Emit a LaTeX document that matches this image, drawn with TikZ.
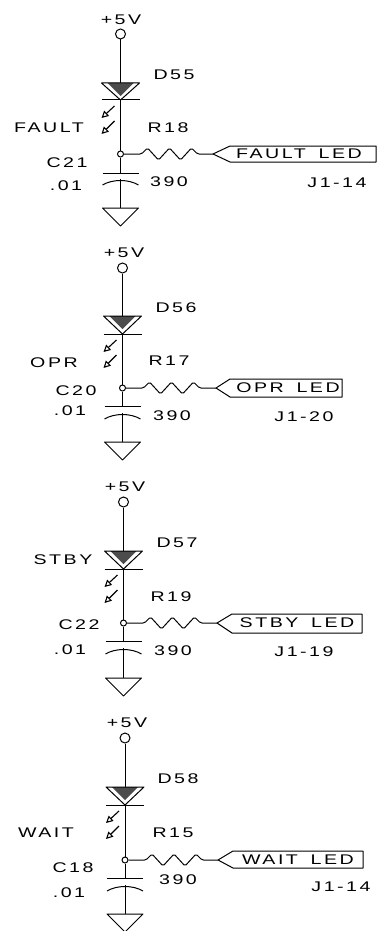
\documentclass[tikz,border=0pt]{standalone}
\usepackage{fontspec}
\usetikzlibrary{arrows.meta, positioning}
\newfontfamily\plotfont[FakeStretch=1.4,LetterSpace=18,WordSpace=1.6]{Liberation Sans}

\begin{document}
\begin{tikzpicture}[
    x=1pt, y=-1pt,
    wire/.style={line width=1pt, line join=round},
    pin/.style={circle, draw, line width=1pt, minimum size=10pt, inner sep=0pt},
    dotnode/.style={circle, draw, line width=1pt, minimum size=6pt, inner sep=0pt},
    lbl/.style={font=\plotfont\fontsize{14}{14}\selectfont, inner sep=0pt, anchor=center, xshift=1pt},
    ledarrow/.style={line width=1.1pt, -{Triangle[open, length=7pt, width=7pt]}}
    ]
    \useasboundingbox (0,0) rectangle (377,931);

    % id / x / pin / diode top / bar / junction / plate / arc / ground top / tip / shoulder / right / tag top / tag bottom
    \foreach \id/\xx/\ypin/\ytop/\ybar/\yj/\ycap/\yarc/\ygnd/\xtip/\xsh/\xright/\ytt/\ytb in {
        55/120.5/34/83/100/154/173/179/208/213/230/376/146/162,
        56/122.5/268/316/334/388/406/413/442/216/230/342/379/397,
        57/123.5/502/551/569/623/641/648/678/217/232/362/614/633,
        58/125/738/787/805/860/878/885/914/218/233/363/851/868}
    {
        \node[pin] (vcc\id) at (\xx,\ypin) {};
        \node[dotnode] (dot\id) at (\xx,\yj) {};
        \coordinate (atop\id) at (\xx,\ytop);
        \coordinate (cath\id) at (\xx,\ybar);
        \coordinate (plate\id) at (\xx,\ycap);
        \coordinate (arc\id) at (\xx,\yarc);
        \coordinate (gnd\id) at (\xx,\ygnd);
        \coordinate (ra\id) at (\xx+21,\yj);
        \coordinate (tip\id) at (\xtip,\yj);

        % diode
        \fill[black!70] (\xx-13,\ytop) -- (\xx+13,\ytop) -- (\xx,\ytop+13) -- cycle;
        \draw[wire] (\xx-19,\ytop) -- (\xx+19,\ytop) -- (cath\id) -- cycle;
        \draw[wire] (\xx-19,\ybar) -- (\xx+19,\ybar);
        \draw[ledarrow] (\xx-6,\ybar+6) -- (\xx-19,\ybar+18);
        \draw[ledarrow] (\xx-6,\ybar+21) -- (\xx-19,\ybar+34);

        % capacitor and ground
        \draw[wire] (\xx-18,\ycap) -- (\xx+18,\ycap);
        \draw[wire] (\xx-18,\yarc+6) .. controls (\xx-8,\yarc) and (\xx+8,\yarc) .. (\xx+18,\yarc+6);
        \draw[wire] (gnd\id) ++(-18,0) -- ++(36,0) -- ++(-18,18) -- cycle;

        % connectors
        \draw[wire] (vcc\id) -- (atop\id);
        \draw[wire] (cath\id) -- (dot\id);
        \draw[wire] (dot\id) -- (plate\id);
        \draw[wire] (arc\id) -- (gnd\id);
        \draw[wire, rounded corners=1.5pt] (dot\id) -- (ra\id) -- ++(6,-6) -- ++(11,12) -- ++(11,-12)
            -- ++(11,12) -- ++(11,-12) -- ++(6,6) -- (tip\id);

        % connector tag
        \draw[wire] (tip\id) -- (\xsh,\ytt) -- (\xright,\ytt) -- (\xright,\ytb) -- (\xsh,\ytb) -- cycle;
    }

    \node[lbl] (v55) at (120,20) {+5V};
    \node[lbl] (d55) at (173,75) {D55};
    \node[lbl] (fault) at (48,128) {FAULT};
    \node[lbl] (r18) at (167,128) {R18};
    \node[lbl] (c21) at (66,163) {C21};
    \node[lbl] (cv21) at (65,186) {.01};
    \node[lbl] (rv18) at (168,182) {390};
    \node[lbl] (led55) at (298,154) {FAULT LED};
    \node[lbl] (j55) at (336,183) {J1-14};

    \node[lbl] (v56) at (123,253) {+5V};
    \node[lbl] (d56) at (175,308) {D56};
    \node[lbl] (opr) at (53,363) {OPR};
    \node[lbl] (r17) at (168,361) {R17};
    \node[lbl] (c20) at (75,391) {C20};
    \node[lbl] (cv20) at (69,411) {.01};
    \node[lbl] (rv17) at (171,416) {390};
    \node[lbl] (led56) at (287,388) {OPR LED};
    \node[lbl] (j56) at (303,417) {J1-20};

    \node[lbl] (v57) at (124,487) {+5V};
    \node[lbl] (d57) at (176,543) {D57};
    \node[lbl] (stby) at (62,560) {STBY};
    \node[lbl] (r19) at (170,597) {R19};
    \node[lbl] (c22) at (78,625) {C22};
    \node[lbl] (cv22) at (69,650) {.01};
    \node[lbl] (rv19) at (172,651) {390};
    \node[lbl] (led57) at (296,623) {STBY LED};
    \node[lbl] (j57) at (303,652) {J1-19};

    \node[lbl] (v58) at (126,723) {+5V};
    \node[lbl] (d58) at (177,779) {D58};
    \node[lbl] (wait) at (45,833) {WAIT};
    \node[lbl] (r15) at (172,833) {R15};
    \node[lbl] (c18) at (72,868) {C18};
    \node[lbl] (cv18) at (68,893) {.01};
    \node[lbl] (rv15) at (177,880) {390};
    \node[lbl] (led58) at (297,860) {WAIT LED};
    \node[lbl] (j58) at (340,887) {J1-14};

\end{tikzpicture}
\end{document}
